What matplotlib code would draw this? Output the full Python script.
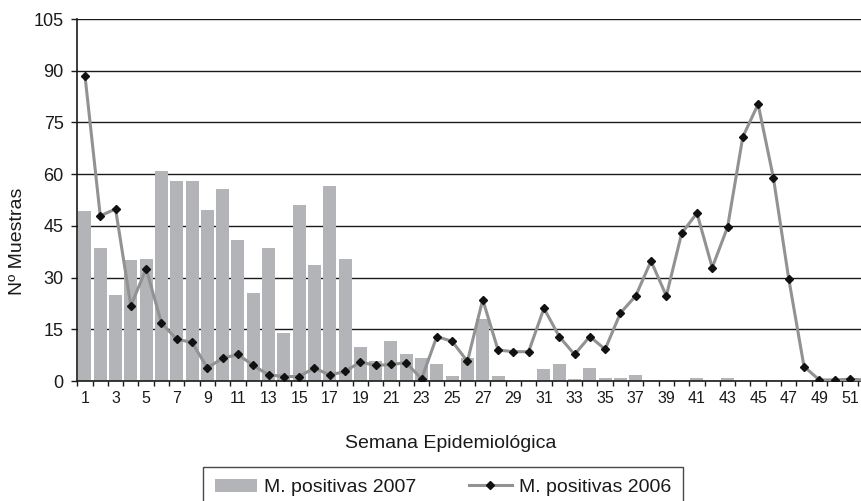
import matplotlib
matplotlib.use("Agg")
import matplotlib.pyplot as plt
from matplotlib.ticker import FixedLocator
from matplotlib import font_manager

weeks = list(range(1, 53))
pos_2007 = [49.3, 38.6, 24.9, 35.2, 35.5, 60.9, 58.0, 58.0, 49.6, 55.7,
            40.9, 25.5, 38.6, 14.0, 51.0, 33.6, 56.6, 35.3, 9.8, 5.8,
            11.6, 7.8, 6.8, 5.0, 1.5, 6.8, 18.1, 1.5, 0, 0,
            3.6, 5.0, 0.7, 3.7, 0.8, 0.9, 1.8, 0, 0, 0,
            1.0, 0, 1.0, 0, 0, 0, 0, 0, 0, 0, 0, 0]
pos_2006 = [88.6, 47.9, 49.9, 21.8, 32.6, 16.8, 12.1, 11.2, 3.8, 6.6,
            7.7, 4.5, 1.8, 1.3, 1.3, 3.8, 1.7, 2.8, 5.5, 4.5,
            4.8, 5.3, 0.6, 12.9, 11.5, 5.7, 23.6, 9.0, 8.5, 8.5,
            21.1, 12.9, 7.7, 12.9, 9.2, 19.7, 24.7, 34.8, 24.7, 42.8,
            48.7, 32.9, 44.6, 70.8, 80.3, 58.9, 29.7, 4.2, 0.3, 0.3,
            0.5, 0.3]
y_ticks = [0, 15, 30, 45, 60, 75, 90, 105]
x_label_weeks = list(range(1, 53, 2))
label_2007 = "M. positivas 2007"
label_2006 = "M. positivas 2006"
xlabel = "Semana Epidemiológica"
ylabel = "Nº Muestras"

installed = {f.name for f in font_manager.fontManager.ttflist}
main_font = "Liberation Sans" if "Liberation Sans" in installed else "DejaVu Sans"
narrow_font = "Liberation Sans Narrow" if "Liberation Sans Narrow" in installed else main_font
plt.rcParams['font.family'] = [main_font, 'DejaVu Sans']

text_col = '#1a1a1a'
bar_col = '#b2b4b7'
line_col = '#929292'

fig = plt.figure(figsize=(8.62, 5.01), dpi=100)
ax = fig.add_axes([77.3 / 862, 1 - 381 / 501, 1 - 77.3 / 862, 362 / 501])

bars = ax.bar(weeks, pos_2007, width=0.85, color=bar_col, zorder=1, label=label_2007)
line, = ax.plot(weeks, pos_2006, color=line_col, lw=2.2, marker='D', markersize=4.2,
                markerfacecolor='#111111', markeredgecolor='#111111', zorder=3,
                label=label_2006)

ax.set_ylim(0, 105)
ax.set_xlim(0.5, 51.79)
ax.set_yticks(y_ticks)
ax.set_yticklabels([str(v) for v in y_ticks], fontsize=13, color=text_col)
ax.set_xticks(x_label_weeks)
ax.set_xticklabels([str(w) for w in x_label_weeks], fontsize=11.5,
                   family=[narrow_font, 'DejaVu Sans'], color=text_col)
ax.xaxis.set_minor_locator(FixedLocator([w + 0.5 for w in range(0, 53)]))
ax.tick_params(axis='x', which='major', length=0, pad=7)
ax.tick_params(axis='x', which='minor', length=3.8, width=1.0, color=text_col, direction='out')
ax.tick_params(axis='y', which='major', length=4.3, width=1.0, color=text_col, pad=5.5)

ax.yaxis.grid(True, color='#1a1a1a', lw=1.0)
ax.set_axisbelow(True)
for s in ['top', 'right']:
    ax.spines[s].set_visible(False)
for s in ['left', 'bottom']:
    ax.spines[s].set_color(text_col)
    ax.spines[s].set_linewidth(1.2)

fig.text(451 / 862, 1 - 444 / 501, xlabel, fontsize=14, ha='center', va='center', color=text_col)
fig.text(18 / 862, 1 - 241 / 501, ylabel, fontsize=14, ha='center', va='center',
         rotation=90, color=text_col)

leg = fig.legend([bars, line], [label_2007, label_2006], loc='upper left',
                 bbox_to_anchor=(203 / 862, 1 - 467 / 501),
                 ncol=2, fontsize=14, frameon=True, fancybox=False, borderpad=0.6,
                 handlelength=2.2, handletextpad=0.35, columnspacing=2.7,
                 borderaxespad=0)
leg.get_frame().set_edgecolor('#1a1a1a')
leg.get_frame().set_linewidth(1.0)
for t in leg.get_texts():
    t.set_color(text_col)

fig.savefig("out.png", dpi=100)
